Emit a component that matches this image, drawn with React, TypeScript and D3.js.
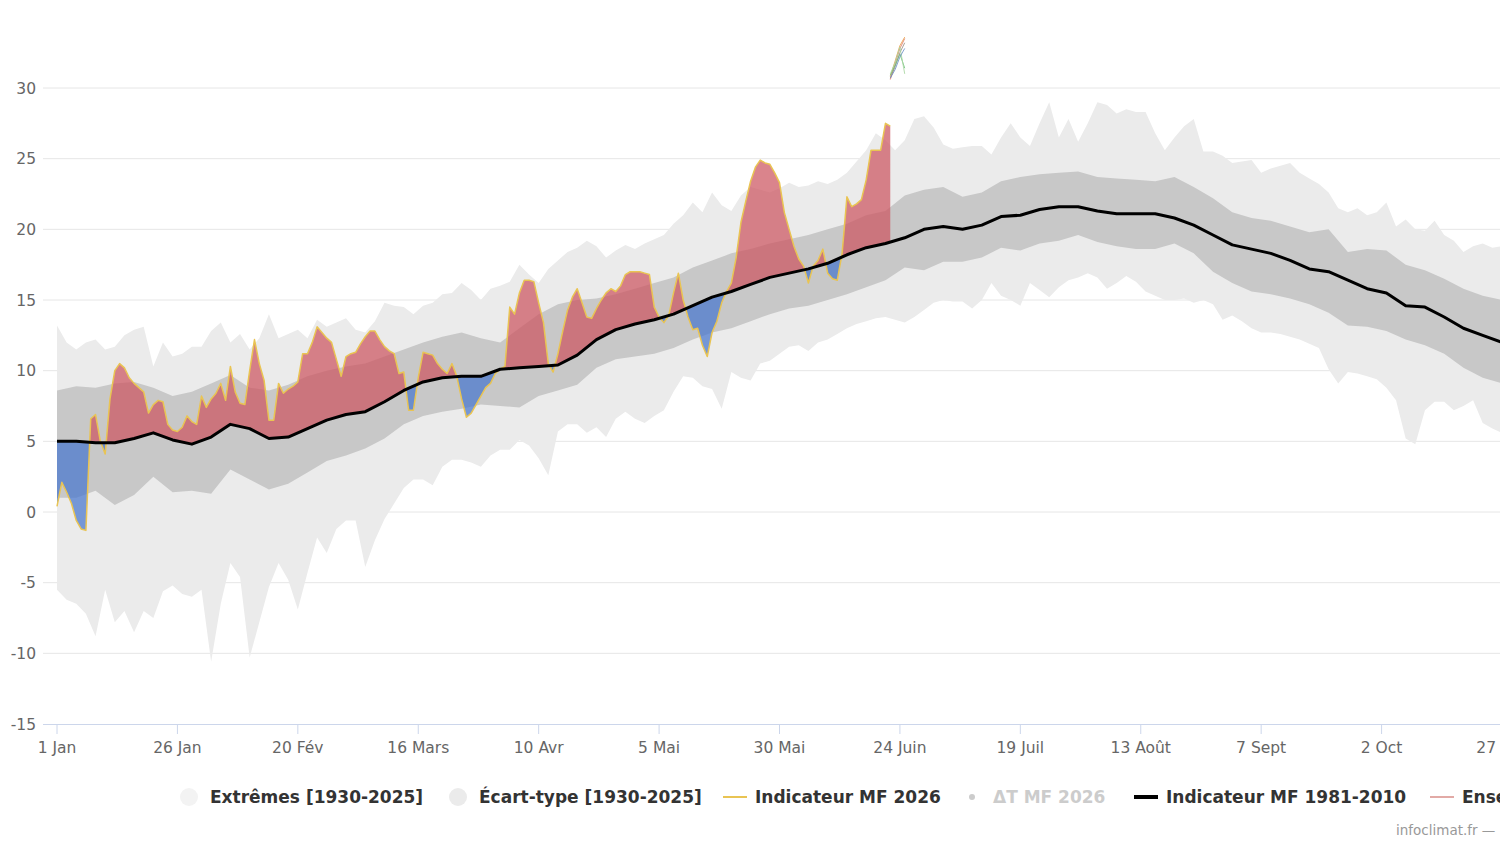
import React from 'react';
import * as d3 from 'd3';

// canvas
const W = 1500;
const H = 843;

// x axis: day of (leap) year, ticks every 25 days
const tickDays = [0, 25, 50, 75, 100, 125, 150, 175, 200, 225, 250, 275, 300];
const tickLabels = ['1 Jan', '26 Jan', '20 Fév', '16 Mars', '10 Avr', '5 Mai', '30 Mai', '24 Juin', '19 Juil', '13 Août', '7 Sept', '2 Oct', '27 Oct'];
const yTicks = [-15, -10, -5, 0, 5, 10, 15, 20, 25, 30];

// extremes [1930-2025], sampled every 2 days (day 0 .. 304)
const extDays = d3.range(0, 305, 2);
const extHi = [
  13.2, 12.0, 11.5, 12.0, 12.2, 11.5, 11.7, 12.5, 12.9, 13.1,
  10.3, 12.0, 11.0, 11.2, 11.7, 11.7, 12.8, 13.4, 12.0, 12.6,
  11.5, 12.3, 14.0, 12.3, 12.6, 12.9, 12.3, 13.6, 13.1, 13.4,
  13.7, 12.9, 12.7, 13.5, 14.8, 14.6, 14.5, 14.0, 14.6, 14.8,
  15.4, 15.5, 16.2, 15.7, 15.0, 15.8, 16.0, 16.3, 17.5, 16.8,
  16.2, 17.2, 17.8, 18.4, 18.7, 19.2, 18.8, 18.0, 18.5, 18.9,
  18.6, 19.0, 19.3, 19.6, 20.4, 21.0, 21.9, 21.2, 22.6, 21.7,
  21.3, 22.4, 23.0, 22.8, 22.6, 22.9, 23.3, 23.0, 23.1, 23.4,
  23.2, 23.5, 24.0, 24.8, 25.6, 26.8, 26.3, 25.6, 26.3, 27.8,
  28.0, 27.2, 26.0, 25.7, 25.8, 25.9, 25.9, 25.3, 26.5, 27.5,
  26.5, 25.9, 27.5, 29.0, 26.5, 27.8, 26.2, 27.5, 29.0, 28.8,
  28.2, 28.5, 28.3, 28.3, 26.8, 25.6, 26.5, 27.3, 27.8, 25.5,
  25.5, 25.2, 24.7, 24.8, 24.9, 24.0, 24.3, 24.5, 24.7, 24.0,
  23.6, 23.2, 22.6, 21.5, 21.2, 21.5, 21.0, 21.2, 21.9, 20.2,
  20.7, 20.0, 19.9, 20.6, 19.6, 19.2, 18.4, 18.8, 19.0, 18.7,
  18.8, 18.6, 18.4,
];
const extLo = [
  -5.5, -6.2, -6.5, -7.2, -8.8, -5.5, -7.8, -7.0, -8.5, -7.0,
  -7.5, -5.6, -5.2, -5.8, -6.0, -5.5, -10.6, -6.5, -3.6, -4.6,
  -10.3, -7.8, -5.3, -3.6, -4.8, -6.9, -4.3, -1.8, -2.9, -1.2,
  -0.6, -0.6, -3.9, -2.0, -0.5, 0.6, 1.7, 2.3, 2.3, 1.9,
  3.2, 3.7, 3.7, 3.5, 3.2, 4.0, 4.4, 4.4, 5.1, 4.7,
  3.8, 2.6, 5.7, 6.2, 6.2, 5.6, 6.0, 5.3, 6.6, 7.1,
  6.6, 6.3, 6.8, 7.2, 8.5, 9.6, 9.5, 8.9, 8.7, 7.3,
  9.9, 9.5, 9.3, 10.5, 10.7, 11.2, 11.7, 11.8, 11.4, 12.0,
  12.2, 12.6, 13.0, 13.3, 13.5, 13.7, 13.8, 13.6, 13.4, 13.8,
  14.3, 14.8, 15.0, 14.9, 14.9, 14.4, 15.0, 16.2, 15.3, 15.0,
  14.6, 16.2, 15.7, 15.2, 15.9, 16.4, 16.6, 16.9, 16.6, 15.8,
  16.2, 16.7, 16.3, 15.6, 15.3, 15.0, 15.0, 15.1, 14.8, 15.0,
  14.7, 13.6, 13.9, 13.5, 13.0, 12.7, 12.7, 12.6, 12.4, 12.2,
  11.9, 11.6, 10.1, 9.1, 9.9, 9.8, 9.6, 9.4, 8.8, 7.9,
  5.2, 4.8, 7.2, 7.8, 7.8, 7.2, 7.5, 7.9, 6.3, 5.9,
  5.6, 5.4, 5.3,
];

// écart-type band and 1981-2010 normal, sampled every 4 days (day 0 .. 304)
const bandDays = d3.range(0, 305, 4);
const sdHi = [
  8.6, 8.9, 8.8, 9.1, 9.2, 8.8, 8.2, 8.5, 9.1, 9.7, 8.8, 8.6, 9.0, 9.6, 10.0, 10.3,
  10.5, 11.0, 11.5, 12.0, 12.4, 12.7, 12.3, 12.0, 13.0, 14.0, 14.7, 15.0, 15.1, 15.4, 15.8, 16.2,
  16.6, 17.3, 17.8, 18.3, 18.6, 19.0, 19.3, 19.6, 20.0, 20.4, 21.0, 21.3, 22.4, 22.8, 23.0, 22.3,
  22.6, 23.4, 23.7, 23.9, 24.0, 24.1, 23.7, 23.6, 23.5, 23.4, 23.7, 23.0, 22.2, 21.2, 20.8, 20.6,
  20.2, 19.8, 20.0, 18.4, 18.6, 18.5, 17.5, 17.1, 16.5, 15.8, 15.3, 15.0, 14.8,
];
const sdLo = [
  1.0, 1.0, 1.5, 0.5, 1.2, 2.5, 1.4, 1.5, 1.3, 3.0, 2.3, 1.6, 2.0, 2.8, 3.6, 4.0,
  4.5, 5.2, 6.2, 6.8, 7.1, 7.3, 7.6, 7.5, 7.4, 8.2, 8.6, 9.0, 10.2, 10.8, 11.0, 11.2,
  11.6, 12.2, 12.7, 13.0, 13.5, 14.0, 14.4, 14.6, 15.0, 15.4, 15.9, 16.4, 17.3, 17.1, 17.7, 17.7,
  18.0, 18.7, 18.5, 19.0, 19.2, 19.6, 19.1, 18.8, 18.6, 18.6, 19.0, 18.3, 17.0, 16.2, 15.6, 15.4,
  15.1, 14.7, 14.1, 13.2, 13.1, 12.8, 12.2, 11.8, 11.2, 10.2, 9.5, 9.1, 8.9,
];
const normal = [
  5.0, 5.0, 4.9, 4.9, 5.2, 5.6, 5.1, 4.8, 5.3, 6.2, 5.9, 5.2, 5.3, 5.9, 6.5, 6.9,
  7.1, 7.8, 8.6, 9.2, 9.5, 9.6, 9.6, 10.1, 10.2, 10.3, 10.4, 11.1, 12.2, 12.9, 13.3, 13.6,
  14.0, 14.6, 15.2, 15.6, 16.1, 16.6, 16.9, 17.2, 17.6, 18.2, 18.7, 19.0, 19.4, 20.0, 20.2, 20.0,
  20.3, 20.9, 21.0, 21.4, 21.6, 21.6, 21.3, 21.1, 21.1, 21.1, 20.8, 20.3, 19.6, 18.9, 18.6, 18.3,
  17.8, 17.2, 17.0, 16.4, 15.8, 15.5, 14.6, 14.5, 13.8, 13.0, 12.5, 12.0, 11.7,
];

// Indicateur MF 2026, daily from 1 Jan
const obsDays = d3.range(0, 174);
const obs2026 = [
  0.4, 2.1, 1.4, 0.6, -0.6, -1.2, -1.3, 6.6, 6.9, 5.0, 4.1, 8.0, 10.0, 10.5, 10.2, 9.5,
  9.1, 8.8, 8.5, 7.0, 7.6, 7.9, 7.8, 6.2, 5.8, 5.7, 6.0, 6.8, 6.4, 6.2, 8.2, 7.4,
  8.0, 8.4, 9.1, 7.9, 10.3, 8.5, 7.7, 7.6, 10.0, 12.2, 10.5, 9.3, 6.5, 6.5, 9.1, 8.4,
  8.7, 8.9, 9.2, 11.2, 11.2, 12.0, 13.1, 12.7, 12.3, 12.0, 10.8, 9.6, 11.0, 11.2, 11.3, 11.9,
  12.4, 12.8, 12.8, 12.2, 11.7, 11.4, 11.2, 9.8, 9.9, 7.2, 7.2, 9.5, 11.3, 11.2, 11.1, 10.5,
  10.1, 9.8, 10.5, 9.6, 8.0, 6.7, 7.0, 7.6, 8.2, 8.8, 9.1, 9.8, 10.1, 10.3, 14.5, 14.0,
  15.5, 16.4, 16.4, 16.3, 14.8, 13.4, 10.5, 9.9, 11.2, 12.8, 14.3, 15.2, 15.8, 14.8, 13.8, 13.7,
  14.4, 15.0, 15.5, 15.8, 15.6, 16.0, 16.8, 17.0, 17.0, 17.0, 16.9, 16.8, 14.5, 13.8, 13.4, 13.9,
  15.5, 16.9, 15.0, 13.8, 12.9, 13.0, 11.8, 11.0, 12.7, 13.5, 14.8, 15.6, 16.2, 18.0, 20.5, 22.0,
  23.4, 24.4, 24.9, 24.7, 24.6, 24.0, 23.3, 21.2, 20.0, 18.8, 17.9, 17.4, 16.2, 17.4, 17.8, 18.6,
  16.9, 16.5, 16.4, 18.3, 22.3, 21.6, 21.8, 22.1, 23.5, 25.6, 25.6, 25.6, 27.5, 27.3,
];

// ensemble members (short spray around 24 Juin)
const ensDays = [173, 174, 175, 176];
const ensMembers = [
  [30.6, 31.7, 32.8, 33.5],
  [30.8, 31.9, 33.0, 33.6],
  [30.7, 31.5, 32.5, 33.2],
  [30.9, 31.6, 32.4, 31.4],
  [31.0, 31.8, 32.9, 31.0],
  [30.7, 31.3, 32.2, 32.8],
];
const ensColors = ['#e07a6a', '#eaa04a', '#9a8f86', '#6cbf7a', '#a8d6a0', '#6f8fc8'];

const legendItems = [
  { label: 'Extrêmes [1930-2025]', kind: 'circle', color: '#f3f3f3', x: 189 },
  { label: 'Écart-type [1930-2025]', kind: 'circle', color: '#ebebeb', x: 458 },
  { label: 'Indicateur MF 2026', kind: 'line', color: '#e9c453', x: 723 },
  { label: 'ΔT MF 2026', kind: 'dot', color: '#cccccc', x: 968 },
  { label: 'Indicateur MF 1981-2010', kind: 'thick', color: '#000000', x: 1134 },
  { label: 'Ensemble ARPEGE', kind: 'line', color: '#e2aaa6', x: 1430 },
];

const FONT = '"Lucida Grande", "DejaVu Sans", "Open Sans", sans-serif';

export default function App() {
  const x = d3.scaleLinear().domain([0, 300]).range([57, 1502]);
  const y = d3.scaleLinear().domain([-15, 30]).range([724, 88]);

  const extArea = d3.area<number>()
    .x((d) => x(d))
    .y0((_, i) => y(extLo[i]))
    .y1((_, i) => y(extHi[i]));
  const sdArea = d3.area<number>()
    .x((d) => x(d))
    .y0((_, i) => y(sdLo[i]))
    .y1((_, i) => y(sdHi[i]));

  // red/blue fill between observed and normal, via clip paths on the normal curve
  const aboveNormal = d3.area<number>().x((d) => x(d)).y0(0).y1((_, i) => y(normal[i]));
  const belowNormal = d3.area<number>().x((d) => x(d)).y0(H).y1((_, i) => y(normal[i]));
  const underObs = d3.area<number>().x((d) => x(d)).y0(H).y1((_, i) => y(obs2026[i]));
  const overObs = d3.area<number>().x((d) => x(d)).y0(0).y1((_, i) => y(obs2026[i]));

  const obsLine = d3.line<number>().x((d) => x(d)).y((_, i) => y(obs2026[i]));
  const normLine = d3.line<number>().x((d) => x(d)).y((_, i) => y(normal[i]));
  const ensLine = (m: number[]) => d3.line<number>().x((d) => x(d)).y((_, i) => y(m[i]))(ensDays) || '';

  return (
    <svg width={W} height={H} style={{ position: 'absolute', left: 0, top: 0, background: '#fff' }} fontFamily={FONT}>
      <defs>
        <clipPath id="plot"><rect x={43} y={0} width={W - 43} height={724} /></clipPath>
        <clipPath id="above"><path d={aboveNormal(bandDays) || ''} /></clipPath>
        <clipPath id="below"><path d={belowNormal(bandDays) || ''} /></clipPath>
      </defs>

      {/* grid */}
      {yTicks.slice(1).map((t) => (
        <line key={t} x1={43} x2={W} y1={y(t)} y2={y(t)} stroke="#e6e6e6" strokeWidth={1} />
      ))}

      <g clipPath="url(#plot)">
        <path d={extArea(extDays) || ''} fill="#ebebeb" />
        <path d={sdArea(bandDays) || ''} fill="#c8c8c8" />
        <path d={underObs(obsDays) || ''} fill="rgb(204,84,96)" fillOpacity={0.72} clipPath="url(#above)" />
        <path d={overObs(obsDays) || ''} fill="rgb(70,118,205)" fillOpacity={0.72} clipPath="url(#below)" />
        <path d={obsLine(obsDays) || ''} fill="none" stroke="#e9c453" strokeWidth={1.5} strokeLinejoin="round" />
        <path d={normLine(bandDays) || ''} fill="none" stroke="#000" strokeWidth={3} strokeLinejoin="round" />
      </g>
      {ensMembers.map((m, i) => (
        <path key={i} d={ensLine(m)} fill="none" stroke={ensColors[i]} strokeWidth={1} opacity={0.85} />
      ))}

      {/* x axis */}
      <line x1={43} x2={W} y1={724.5} y2={724.5} stroke="#ccd6eb" strokeWidth={1} />
      {tickDays.map((d, i) => (
        <g key={d} transform={`translate(${x(d)},0)`}>
          <line x1={0} x2={0} y1={724} y2={734} stroke="#ccd6eb" />
          <text y={753} textAnchor="middle" fontSize={15.5} fill="#666">{tickLabels[i]}</text>
        </g>
      ))}

      {/* y axis labels */}
      {yTicks.map((t) => (
        <text key={t} x={36} y={y(t) + 5.5} textAnchor="end" fontSize={15.5} fill="#666">{t}</text>
      ))}

      {/* legend */}
      {legendItems.map((it) => {
        const cy = 797;
        const hidden = it.kind === 'dot';
        let sym: React.ReactNode = null;
        let tx = it.x + 21;
        if (it.kind === 'circle') sym = <circle cx={it.x} cy={cy} r={9} fill={it.color} />;
        if (it.kind === 'dot') { sym = <circle cx={it.x + 4} cy={cy} r={3} fill={it.color} />; tx = it.x + 25; }
        if (it.kind === 'line') { sym = <line x1={it.x} x2={it.x + 24} y1={cy} y2={cy} stroke={it.color} strokeWidth={2} />; tx = it.x + 32; }
        if (it.kind === 'thick') { sym = <line x1={it.x} x2={it.x + 24} y1={cy} y2={cy} stroke={it.color} strokeWidth={4} />; tx = it.x + 32; }
        return (
          <g key={it.label}>
            {sym}
            <text x={tx} y={cy + 6} fontSize={17} fontWeight="bold" fill={hidden ? '#cccccc' : '#333333'}>{it.label}</text>
          </g>
        );
      })}

      <text x={1396} y={835} fontSize={13.5} fill="#999">infoclimat.fr —</text>
    </svg>
  );
}
